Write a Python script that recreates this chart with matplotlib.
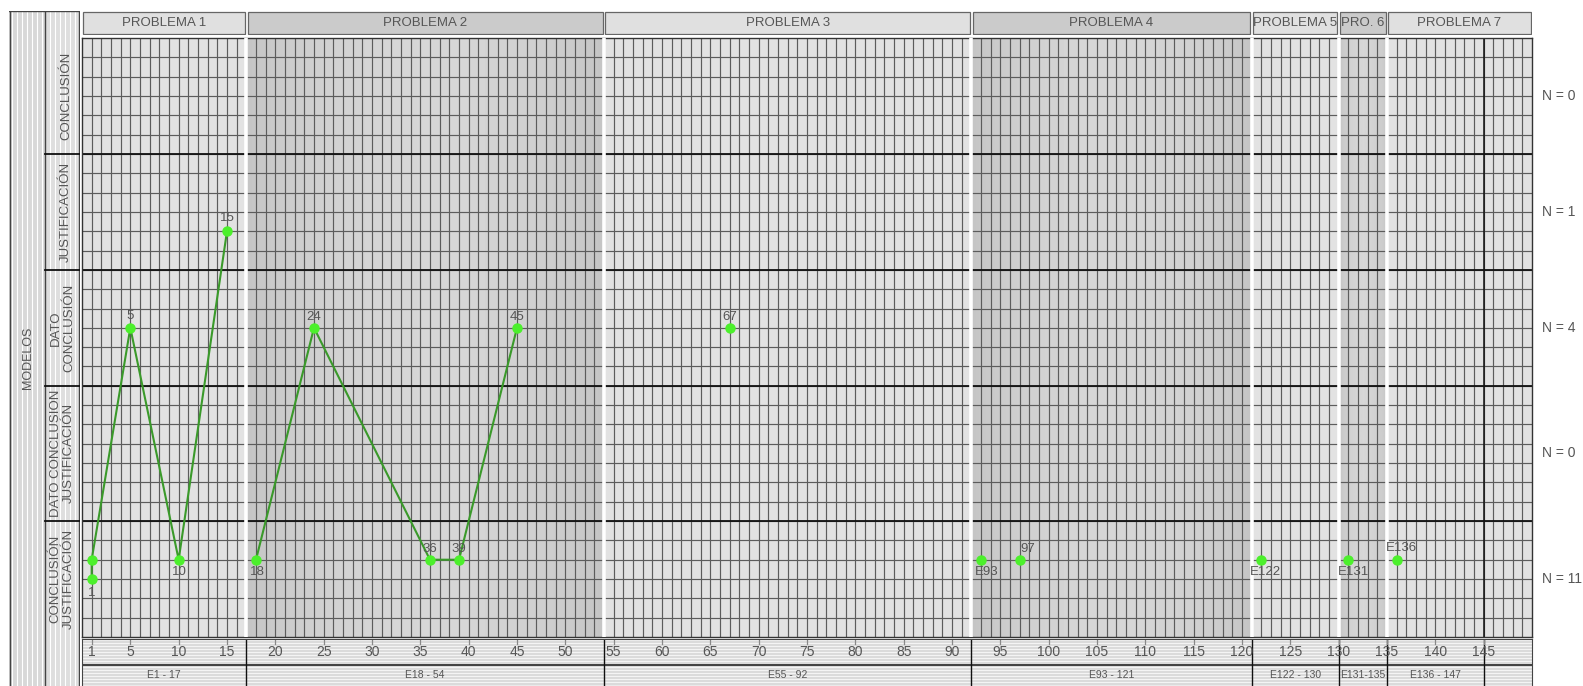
import numpy as np
import matplotlib
matplotlib.use('Agg')
import matplotlib.pyplot as plt
from matplotlib.patches import Rectangle

plt.rcParams['font.family'] = ['Liberation Sans', 'DejaVu Sans']

# ---- data ----
problem_names = ['PROBLEMA 1', 'PROBLEMA 2', 'PROBLEMA 3', 'PROBLEMA 4',
                 'PROBLEMA 5', 'PRO. 6', 'PROBLEMA 7']
problem_bounds = [0, 17, 54, 92, 121, 130, 135, 150]
episode_ranges = ['E1 - 17', 'E18 - 54', 'E55 - 92', 'E93 - 121',
                  'E122 - 130', 'E131-135', 'E136 - 147']
row_names = ['CONCLUSIÓN', 'JUSTIFICACIÓN', 'DATO\nCONCLUSIÓN',
             'DATO CONCLUSION\nJUSTIFICACIÓN', 'CONCLUSIÓN\nJUSTIFICACIÓN']
row_cells = [6, 6, 6, 7, 6]          # grid cells per row, top to bottom
n_counts = [0, 1, 4, 0, 11]
tick_values = [1, 5, 10, 15, 20, 25, 30, 35, 40, 45, 50, 55, 60, 65, 70, 75,
               80, 85, 90, 95, 100, 105, 110, 115, 120, 125, 130, 135, 140, 145]

# connected sequences (episode, grid level)
p1_ep = [1, 1, 5, 10, 15]
p1_lvl = [3, 4, 16, 4, 21]
p1_lab = ['1', '', '5', '10', '15']
p2_ep = [18, 24, 36, 39, 45]
p2_lvl = [4, 16, 4, 4, 16]
p2_lab = ['18', '24', '36', '39', '45']
# isolated points
solo_ep = [67, 93, 97, 122, 131, 136]
solo_lvl = [16, 4, 4, 4, 4, 4]
solo_lab = ['67', 'E93', '97', 'E122', 'E131', 'E136']

# label offsets in pixels (style only)
p1_off = [(0, -14), (0, 0), (0, 12), (1, -12), (0, 13)]
p2_off = [(1, -12), (0, 11), (0, 11), (0, 11), (0, 11)]
solo_off = [(0, 11), (6, -12), (8, 11), (4, -12), (5, -12), (5, 12)]

W, H = 1583, 686
fig = plt.figure(figsize=(W / 100, H / 100), dpi=100)
fig.patch.set_facecolor('white')

def px_axes(x0, y0, x1, y1):
    a = fig.add_axes([x0 / W, 1 - y1 / H, (x1 - x0) / W, (y1 - y0) / H])
    return a

TXT = '#555555'
PL, PR, PT, PB = 82, 1532, 38, 637
ntot = sum(row_cells)
unit = (PB - PT) / ntot
row_tops = list(np.cumsum([0] + row_cells))
row_edges = [ntot - t for t in row_tops]          # 31, 25, 19, 13, 6, 0
row_centers = [(row_edges[i] + row_edges[i + 1]) / 2 for i in range(len(row_cells))]

# ---- main grid ----
ax = px_axes(PL, PT, PR, PB)
ax.set_xlim(0, 150)
ax.set_ylim(0, ntot)
for i in range(len(problem_names)):
    a, b = problem_bounds[i], problem_bounds[i + 1]
    if i % 2 == 1:
        t = np.linspace(0, 1, 60)
        g = 0.77 + 0.07 * np.sin(np.pi * t) ** 0.8
        ax.imshow(g[None, :], extent=(a, b, 0, ntot), cmap='gray', vmin=0, vmax=1,
                  aspect='auto', interpolation='bilinear', zorder=0)
    else:
        ax.add_patch(Rectangle((a, 0), b - a, ntot, facecolor='#e2e2e2',
                               edgecolor='none', zorder=0))
for x in range(1, 150):
    ax.axvline(x, color='#5c5c5c', lw=0.85, zorder=1)
for y in range(1, ntot):
    ax.axhline(y, color='#5c5c5c', lw=0.85, zorder=1)
for y in row_edges[1:-1]:
    ax.axhline(y, color='#111111', lw=1.3, zorder=2)
ax.axvline(145, color='#111111', lw=1.1, zorder=2)
for x in problem_bounds[1:-1]:
    ax.axvline(x, color='white', lw=2.6, zorder=3)
for s in ax.spines.values():
    s.set_color('#333333')
    s.set_linewidth(1.0)
ax.set_xticks([])
ax.set_yticks([])

green_line = '#3a9a2a'
green_dot = '#4cf02c'
for ep, lv in [(p1_ep, p1_lvl), (p2_ep, p2_lvl)]:
    ax.plot(ep, lv, color=green_line, lw=1.5, zorder=4)
ax.plot(p1_ep + p2_ep + solo_ep, p1_lvl + p2_lvl + solo_lvl, 'o', color=green_dot,
        ms=6.5, zorder=5, clip_on=False)
for eps, lvs, labs, offs in [(p1_ep, p1_lvl, p1_lab, p1_off),
                             (p2_ep, p2_lvl, p2_lab, p2_off),
                             (solo_ep, solo_lvl, solo_lab, solo_off)]:
    for e, l, t, o in zip(eps, lvs, labs, offs):
        if t:
            ax.annotate(t, (e, l), xytext=o, textcoords='offset pixels', ha='center',
                        va='center', fontsize=9.5, color=TXT, zorder=6)

for c, n in zip(row_centers, n_counts):
    ax.text(151, c, f'N = {n}', ha='left', va='center', fontsize=10, color=TXT,
            clip_on=False)

# ---- header boxes ----
hx = px_axes(PL, 11, PR, 35)
hx.set_xlim(0, 150)
hx.set_ylim(0, 1)
hx.axis('off')
for i, name in enumerate(problem_names):
    a, b = problem_bounds[i], problem_bounds[i + 1]
    fc = '#cbcbcb' if i % 2 == 1 else '#e0e0e0'
    hx.add_patch(Rectangle((a + 0.15, 0.03), b - a - 0.3, 0.94, facecolor=fc,
                           edgecolor='#666666', lw=0.9))
    hx.text((a + b) / 2, 0.5, name, ha='center', va='center', fontsize=9.5, color=TXT)

# ---- bottom strip ----
bx = px_axes(PL, 639, PR, 686)
bx.set_xlim(0, 150)
bx.set_ylim(0, 47)
bx.set_facecolor('#dadada')
for y in np.arange(1.5, 47, 3):
    bx.axhline(y, color='#f4f4f4', lw=0.8, zorder=1)
bx.axhline(21, color='#333333', lw=1.3, zorder=2)
for x in problem_bounds[1:-1] + [145]:
    bx.axvline(x, color='#111111', lw=1.0, zorder=2)
for v in tick_values:
    bx.plot([v, v], [47, 42], color='#888888', lw=0.9, zorder=2)
    bx.text(v, 34, str(v), ha='center', va='center', fontsize=10, color=TXT, zorder=3)
label_bounds = problem_bounds[:-1] + [145]
for i, t in enumerate(episode_ranges):
    bx.text((label_bounds[i] + label_bounds[i + 1]) / 2, 10.5, t, ha='center',
            va='center', fontsize=7.5, color=TXT, zorder=3)
for s in bx.spines.values():
    s.set_color('#444444')
bx.set_xticks([])
bx.set_yticks([])

# ---- left label columns ----
lx = px_axes(9, 11, 80, 686)
lx.set_xlim(9, 80)
lx.set_ylim(-(686 - PB) / unit, ntot + (PT - 11) / unit)
lx.axis('off')
ylo, yhi = lx.get_ylim()
lx.add_patch(Rectangle((9, ylo), 36, yhi - ylo, facecolor='#d8d8d8', edgecolor='none'))
lx.add_patch(Rectangle((45, ylo), 35, yhi - ylo, facecolor='#dedede', edgecolor='none'))
for x in range(10, 45, 5):
    lx.axvline(x + 2, color='white', lw=0.8)
for x in range(50, 80, 5):
    lx.axvline(x, color='white', lw=0.8)
for x in [9.5, 45, 79.5]:
    lx.axvline(x, color='#444444', lw=1.0)
lx.axhline(yhi - 0.02, color='#444444', lw=1.0)
for y in row_edges[1:-1]:
    lx.plot([45, 80], [y, y], color='#111111', lw=1.3)
for c, name in zip(row_centers, row_names):
    xpos = 66 if '\n' not in name else 62.5
    lx.text(xpos, c, name, rotation=90, ha='center', va='center', fontsize=9.5,
            color=TXT, multialignment='center', linespacing=1.15)
lx.text(28, (PB - 358) / unit, 'MODELOS', rotation=90, ha='center', va='center',
        fontsize=9, color=TXT)

fig.savefig('out.png', dpi=100)
